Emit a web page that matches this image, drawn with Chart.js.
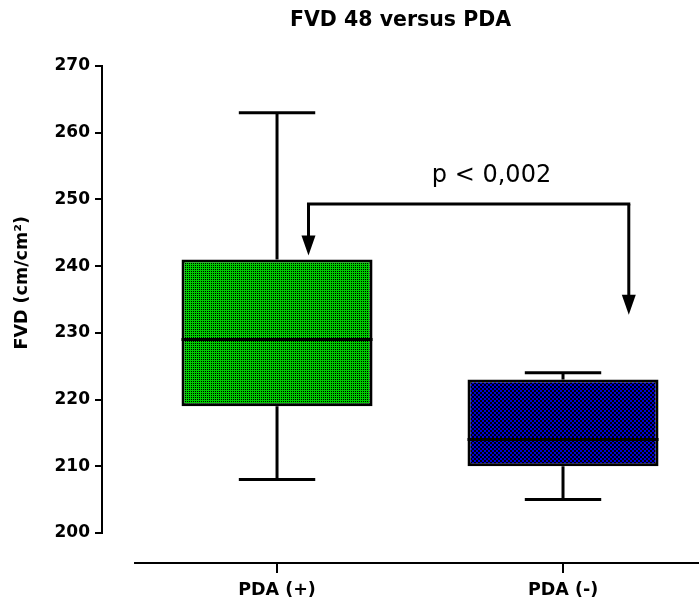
<!DOCTYPE html>
<html>
<head>
<meta charset="utf-8">
<script src="https://cdn.jsdelivr.net/npm/chart.js@4/dist/chart.umd.min.js"></script>
<style>
  html, body { margin: 0; padding: 0; background: #ffffff; overflow: hidden; }
  canvas { display: block; }
</style>
</head>
<body>
<canvas id="chart" width="699" height="605"></canvas>
<script>
// Box-plot summaries per group
const groups = ['PDA (+)', 'PDA (-)'];
const lowWhisker = [208, 205];
const lowerQuartile = [219, 210];
const medians = [229, 214];
const upperQuartile = [241, 223];
const highWhisker = [263, 224];

// Axis ticks
const yTickValues = [200, 210, 220, 230, 240, 250, 260, 270];

// Texts
const chartTitle = 'FVD 48 versus PDA';
const yTitle = 'FVD (cm/cm²)';
const pText = 'p < 0,002';

// Significance bracket (in data units)
const bracketLevel = 249.3;
const arrowX = [1.11, 2.23];
const arrowTip = [241.6, 232.7];
const pTextAt = [1.75, 252.6];

const FONT = "'DejaVu Sans', Verdana, sans-serif";

const canvas = document.getElementById('chart');
const ctx0 = canvas.getContext('2d');

function makePattern(size, paint) {
  const tile = document.createElement('canvas');
  tile.width = size; tile.height = size;
  paint(tile.getContext('2d'));
  return ctx0.createPattern(tile, 'repeat');
}

// fine green dot texture
const greenFill = makePattern(2, g => {
  g.fillStyle = '#00cc00'; g.fillRect(0, 0, 2, 2);
  g.fillStyle = '#000000'; g.fillRect(1, 1, 1, 1);
});
// blue / black checkerboard
const blueFill = makePattern(4, g => {
  g.fillStyle = '#0000d8'; g.fillRect(0, 0, 4, 4);
  g.fillStyle = '#000000'; g.fillRect(0, 0, 2, 2); g.fillRect(2, 2, 2, 2);
});

function line(ctx, x1, y1, x2, y2) {
  ctx.beginPath(); ctx.moveTo(x1, y1); ctx.lineTo(x2, y2); ctx.stroke();
}

const boxExtras = {
  id: 'boxExtras',
  beforeDatasetsDraw(chart) {
    const { ctx, chartArea, scales: { x, y } } = chart;
    ctx.save();
    ctx.strokeStyle = '#000';
    ctx.lineWidth = 2;
    // free-standing y axis line
    line(ctx, chartArea.left, y.getPixelForValue(yTickValues[0]) + 1,
              chartArea.left, y.getPixelForValue(yTickValues[yTickValues.length - 1]) - 1);
    // free-standing x axis line
    line(ctx, x.getPixelForValue(0.5), chartArea.bottom, chartArea.right, chartArea.bottom);
    ctx.restore();
  },
  afterDatasetsDraw(chart) {
    const { ctx, scales: { x, y } } = chart;
    const meta = chart.getDatasetMeta(0);
    ctx.save();
    ctx.strokeStyle = '#000';
    ctx.fillStyle = '#000';
    ctx.lineWidth = 3;
    meta.data.forEach((bar, i) => {
      const cx = bar.x;
      const half = bar.width / 2;
      const cap = bar.width * 0.2;
      const yHi = y.getPixelForValue(highWhisker[i]);
      const yLo = y.getPixelForValue(lowWhisker[i]);
      const yQ3 = y.getPixelForValue(upperQuartile[i]);
      const yQ1 = y.getPixelForValue(lowerQuartile[i]);
      const yMed = y.getPixelForValue(medians[i]);
      line(ctx, cx, yQ3, cx, yHi);
      line(ctx, cx - cap, yHi, cx + cap, yHi);
      line(ctx, cx, yQ1, cx, yLo);
      line(ctx, cx - cap, yLo, cx + cap, yLo);
      line(ctx, cx - half, yMed, cx + half, yMed);
    });

    // significance bracket with arrows
    const yb = y.getPixelForValue(bracketLevel);
    const xl = x.getPixelForValue(arrowX[0]);
    const xr = x.getPixelForValue(arrowX[1]);
    line(ctx, xl - 1.5, yb, xr + 1.5, yb);
    const headH = 20, headW = 7;
    [0, 1].forEach(k => {
      const ax = x.getPixelForValue(arrowX[k]);
      const tip = y.getPixelForValue(arrowTip[k]);
      line(ctx, ax, yb, ax, tip - headH + 2);
      ctx.beginPath();
      ctx.moveTo(ax - headW, tip - headH);
      ctx.lineTo(ax + headW, tip - headH);
      ctx.lineTo(ax, tip);
      ctx.closePath();
      ctx.fill();
    });
    ctx.font = `24px ${FONT}`;
    ctx.textAlign = 'center';
    ctx.textBaseline = 'alphabetic';
    ctx.fillText(pText, x.getPixelForValue(pTextAt[0]), y.getPixelForValue(pTextAt[1]));

    // rotated y axis title
    ctx.save();
    ctx.translate(22, y.getPixelForValue(237.5));
    ctx.rotate(-Math.PI / 2);
    ctx.font = `bold 17.5px ${FONT}`;
    ctx.textAlign = 'center';
    ctx.textBaseline = 'middle';
    ctx.fillText(yTitle, 0, 0);
    ctx.restore();

    ctx.restore();
  }
};

new Chart(canvas, {
  type: 'bar',
  data: {
    datasets: [{
      data: groups.map((g, i) => ({ x: i + 1, y: [lowerQuartile[i], upperQuartile[i]] })),
      backgroundColor: [greenFill, blueFill],
      borderColor: '#000000',
      borderWidth: 3,
      borderSkipped: false,
      categoryPercentage: 1,
      barPercentage: 0.668
    }]
  },
  options: {
    responsive: false,
    animation: false,
    events: [],
    layout: { padding: { top: 0, right: 0, bottom: 0, left: 0 } },
    plugins: {
      legend: { display: false },
      tooltip: { enabled: false },
      title: {
        display: true,
        text: chartTitle,
        fullSize: false,
        color: '#000',
        font: { family: FONT, size: 20.5, weight: 'bold' },
        padding: { top: 8, bottom: 33.4 }
      }
    },
    scales: {
      x: {
        type: 'linear',
        offset: false,
        min: 0.388,
        max: 2.4755,
        afterBuildTicks: s => { s.ticks = groups.map((g, i) => ({ value: i + 1 })); },
        afterFit: s => { s.height = 42; },
        border: { display: false },
        grid: { display: true, offset: false, drawOnChartArea: false, drawTicks: true, tickLength: 10, color: '#000', lineWidth: 2 },
        ticks: {
          callback: v => groups[Math.round(v) - 1] || '',
          color: '#000',
          padding: 7,
          maxRotation: 0,
          font: { family: FONT, size: 17.5, weight: 'bold' }
        }
      },
      y: {
        min: 195.5,
        max: 270,
        afterBuildTicks: s => { s.ticks = yTickValues.map(v => ({ value: v })); },
        afterFit: s => { s.width = 102; },
        border: { display: false },
        grid: { display: true, drawOnChartArea: false, drawTicks: true, tickLength: 7, color: '#000', lineWidth: 2 },
        ticks: {
          color: '#000',
          padding: 5,
          font: { family: FONT, size: 17, weight: 'bold' }
        }
      }
    }
  },
  plugins: [boxExtras]
});
</script>
</body>
</html>
